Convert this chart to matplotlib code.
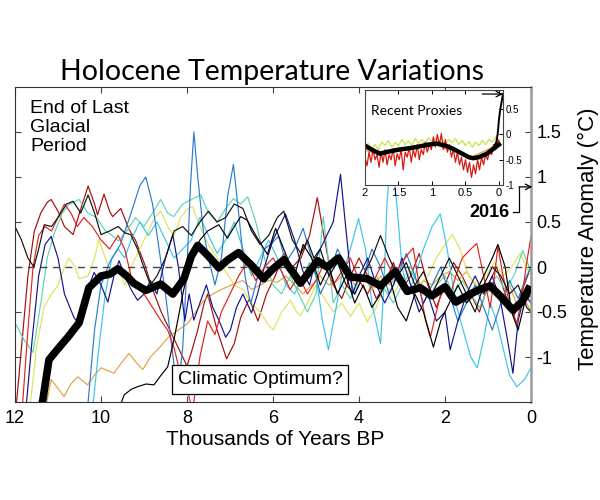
import matplotlib
matplotlib.use("Agg")
import matplotlib.pyplot as plt

plt.rcParams['font.family'] = ['Liberation Sans', 'DejaVu Sans']

# ---- main panel data: (thousands of years BP, anomaly degC) ----
dark_red = [(12.0, -1.7), (11.85, -0.9), (11.7, -0.1), (11.55, 0.4), (11.4, 0.6), (11.25, 0.72),
            (11.16, 0.75), (11.0, 0.62), (10.85, 0.45), (10.65, 0.36), (10.5, 0.6), (10.3, 0.9),
            (10.15, 0.7), (10.08, 0.58), (9.93, 0.81), (9.8, 0.62), (9.73, 0.56), (9.54, 0.65),
            (9.35, 0.42), (9.2, 0.3), (9.0, 0.05), (8.8, -0.25), (8.6, -0.5), (8.4, -0.7),
            (8.2, -0.9), (8.0, -1.1), (7.9, -0.95), (7.75, -0.7), (7.6, -0.4), (7.52, -0.3),
            (7.3, -0.7), (7.08, -1.02), (6.9, -0.85), (6.75, -0.56), (6.55, -0.35), (6.35, -0.6),
            (6.15, -0.3), (5.95, -0.1), (5.75, 0.15), (5.55, 0.0), (5.35, 0.1), (5.15, 0.35),
            (4.97, 0.77), (4.8, 0.3), (4.6, -0.2), (4.4, -0.35), (4.2, -0.1), (4.0, 0.1),
            (3.8, -0.1), (3.6, -0.35), (3.4, -0.2), (3.2, 0.05), (3.0, -0.25), (2.8, -0.1),
            (2.6, 0.15), (2.4, -0.2), (2.2, -0.45), (2.0, -0.2), (1.8, 0.05), (1.6, -0.1),
            (1.4, -0.3), (1.2, -0.5), (1.0, -0.2), (0.8, 0.0), (0.6, -0.3), (0.4, -0.55),
            (0.2, -0.25), (0.0, 0.0)]

red = [(12.0, -2.0), (11.82, -1.5), (11.7, -0.7), (11.58, 0.0), (11.45, 0.35), (11.3, 0.45),
       (11.15, 0.4), (11.0, 0.55), (10.85, 0.7), (10.7, 0.6), (10.55, 0.45), (10.4, 0.55),
       (10.2, 0.45), (10.0, 0.3), (9.8, 0.2), (9.6, 0.35), (9.45, 0.2), (9.3, -0.1),
       (9.15, -0.2), (9.0, -0.3), (8.8, -0.45), (8.6, -0.6), (8.45, -0.7), (8.3, -0.9),
       (8.15, -1.2), (8.0, -1.35), (7.87, -1.6), (7.7, -1.0), (7.52, -0.6), (7.35, -0.75),
       (7.2, -0.5), (7.0, -0.3), (6.8, -0.1), (6.6, 0.05), (6.4, -0.15), (6.2, 0.0),
       (6.0, 0.1), (5.8, -0.05), (5.6, -0.25), (5.4, -0.1), (5.2, -0.3), (5.0, -0.15),
       (4.8, 0.05), (4.6, -0.2), (4.4, -0.05), (4.2, 0.1), (4.0, -0.15), (3.8, -0.3),
       (3.6, -0.1), (3.4, 0.1), (3.2, -0.1), (3.0, 0.05), (2.85, 0.15), (2.74, 0.21),
       (2.6, -0.2), (2.45, -0.6), (2.34, -0.78), (2.2, -0.5), (2.05, -0.2), (1.9, -0.35),
       (1.75, -0.1), (1.6, 0.1), (1.4, 0.2), (1.26, 0.26), (1.1, -0.1), (0.95, -0.45),
       (0.85, -0.1), (0.77, 0.23), (0.65, -0.1), (0.5, -0.4), (0.33, -0.63), (0.2, -0.3),
       (0.1, 0.05), (0.0, 0.34)]

navy = [(11.75, -1.6), (11.6, -0.8), (11.45, -0.1), (11.3, 0.25), (11.16, 0.34), (11.0, 0.1),
        (10.85, -0.3), (10.63, -0.56), (10.54, -0.62), (10.35, -0.3), (10.16, -0.06), (10.0, -0.2),
        (9.84, -0.39), (9.7, -0.1), (9.58, 0.07), (9.45, -0.1), (9.3, -0.25), (9.15, -0.37),
        (9.0, -0.3), (8.85, -0.15), (8.7, -0.3), (8.5, 0.1), (8.33, 0.36), (8.2, 0.0),
        (8.05, -0.6), (7.95, -0.3), (7.84, -0.59), (7.7, -0.4), (7.55, -0.2), (7.4, -0.45),
        (7.25, -0.6), (7.1, -0.78), (6.99, -0.7), (6.85, -0.45), (6.7, -0.3), (6.5, -0.51),
        (6.36, -0.3), (6.2, 0.0), (6.0, 0.3), (5.85, 0.45), (5.71, 0.59), (5.5, 0.3),
        (5.31, -0.04), (5.15, -0.2), (5.0, 0.1), (4.8, 0.3), (4.6, 0.5), (4.43, 1.03),
        (4.3, 0.4), (4.15, -0.3), (4.0, -0.1), (3.8, 0.1), (3.6, -0.2), (3.4, -0.4),
        (3.2, -0.2), (3.0, 0.1), (2.8, -0.2), (2.6, -0.5), (2.4, -0.3), (2.2, -0.6),
        (2.0, -0.5), (1.88, -0.92), (1.7, -0.6), (1.5, -0.3), (1.3, -0.1), (1.1, -0.3),
        (0.9, -0.1), (0.7, -0.4), (0.55, -0.8), (0.42, -1.18), (0.3, -0.6), (0.15, -0.3),
        (0.0, -0.4)]

steel_blue = [(10.35, -1.6), (10.3, -1.5), (10.15, -0.7), (10.0, -0.2), (9.8, 0.05), (9.55, 0.25),
              (9.3, 0.6), (9.1, 0.9), (8.96, 1.0), (8.8, 0.7), (8.65, 0.2), (8.5, -0.3),
              (8.35, -0.9), (8.22, -1.4), (8.1, -0.9), (8.0, 0.0), (7.92, 0.9), (7.84, 1.5),
              (7.75, 1.0), (7.62, 0.4), (7.5, 0.1), (7.35, -0.2), (7.2, 0.1), (7.05, 0.8),
              (6.92, 1.14), (6.8, 0.6), (6.65, -0.1), (6.52, -0.41), (6.35, -0.1), (6.2, 0.2),
              (6.06, 0.25), (5.87, 0.34), (5.7, 0.05), (5.5, 0.2), (5.3, 0.43), (5.1, 0.1),
              (4.9, -0.3), (4.7, -0.1), (4.5, 0.2), (4.3, 0.0), (4.1, -0.3), (3.9, -0.1),
              (3.7, 0.2), (3.5, 0.0), (3.3, -0.3), (3.1, -0.1), (2.9, 0.15), (2.7, -0.1),
              (2.5, -0.4), (2.3, -0.2), (2.1, 0.0), (1.9, -0.3), (1.7, -0.6), (1.5, -0.4),
              (1.3, -0.2), (1.1, -0.45), (0.9, -0.7), (0.7, -0.4), (0.5, -0.15), (0.3, -0.35),
              (0.1, -0.1), (0.0, 0.0)]

cyan = [(10.2, -1.6), (10.05, -0.9), (9.9, -0.3), (9.75, 0.1), (9.6, 0.2), (9.45, 0.1),
        (9.3, 0.3), (9.1, 0.5), (8.9, 0.35), (8.7, 0.5), (8.5, 0.3), (8.3, 0.1),
        (8.1, 0.2), (7.9, 0.3), (7.7, 0.55), (7.5, 0.35), (7.3, 0.15), (7.1, 0.3),
        (6.9, 0.5), (6.7, 0.2), (6.5, -0.1), (6.3, 0.1), (6.1, 0.3), (5.9, 0.1),
        (5.7, -0.2), (5.5, -0.3), (5.3, -0.1), (5.15, 0.05), (5.0, -0.1), (4.85, -0.6),
        (4.71, -0.92), (4.55, -0.5), (4.4, -0.1), (4.2, 0.2), (4.01, 0.54), (3.85, 0.2),
        (3.7, -0.4), (3.5, -0.85), (3.42, -0.2), (3.35, 0.7), (3.25, 1.3), (3.12, 0.7),
        (3.0, 0.0), (2.85, -0.3), (2.7, -0.1), (2.5, 0.2), (2.3, 0.45), (2.11, 0.59),
        (1.95, 0.2), (1.75, -0.4), (1.55, -0.75), (1.4, -1.0), (1.25, -1.12), (1.1, -0.8),
        (0.95, -0.4), (0.8, -0.6), (0.65, -0.9), (0.5, -1.2), (0.33, -1.33), (0.15, -1.25),
        (0.0, -1.12)]

turquoise = [(12.0, -0.62), (11.8, -0.8), (11.58, -0.95), (11.4, -0.4), (11.25, 0.1), (11.1, 0.36),
             (10.9, 0.6), (10.75, 0.69), (10.51, 0.75), (10.31, 0.6), (10.1, 0.55), (9.9, 0.4),
             (9.77, 0.36), (9.59, 0.29), (9.4, 0.4), (9.2, 0.55), (9.0, 0.45), (8.8, 0.6),
             (8.61, 0.75), (8.45, 0.6), (8.31, 0.56), (8.1, 0.7), (7.9, 0.75), (7.68, 0.8),
             (7.5, 0.6), (7.3, 0.5), (7.1, 0.65), (6.92, 0.76), (6.75, 0.7), (6.59, 0.78),
             (6.4, 0.5), (6.2, 0.1), (6.0, -0.2), (5.8, -0.3), (5.6, -0.1), (5.4, -0.3),
             (5.2, -0.5), (5.0, -0.3), (4.83, 0.56), (4.6, -0.4), (4.4, -0.2), (4.2, -0.35),
             (4.0, -0.15), (3.8, -0.3), (3.6, -0.1), (3.4, -0.25), (3.2, -0.4), (3.0, -0.2),
             (2.8, -0.05), (2.6, -0.2), (2.4, -0.35), (2.2, -0.2), (2.0, -0.1), (1.8, -0.3),
             (1.6, -0.15), (1.4, -0.3), (1.2, -0.45), (1.0, -0.25), (0.8, -0.1), (0.6, -0.25),
             (0.4, -0.1), (0.19, 0.18), (0.0, -0.05)]

yellow = [(11.7, -1.6), (11.63, -1.47), (11.5, -0.9), (11.33, -0.45), (11.15, -0.3), (11.0, -0.2),
          (10.85, 0.0), (10.75, 0.1), (10.6, 0.0), (10.51, -0.13), (10.3, -0.1), (10.15, 0.1),
          (10.05, 0.31), (9.9, 0.1), (9.75, -0.1), (9.6, 0.0), (9.45, -0.2), (9.3, 0.0),
          (9.1, 0.2), (8.9, 0.4), (8.75, 0.55), (8.61, 0.62), (8.45, 0.45), (8.3, 0.35),
          (8.15, 0.55), (7.98, 0.65), (7.87, 0.67), (7.7, 0.45), (7.5, 0.25), (7.3, 0.1),
          (7.1, -0.05), (6.9, -0.2), (6.7, -0.25), (6.5, -0.4), (6.3, -0.5), (6.13, -0.63),
          (5.99, -0.7), (5.8, -0.5), (5.59, -0.37), (5.45, -0.5), (5.36, -0.54), (5.2, -0.4),
          (5.0, -0.2), (4.8, -0.35), (4.6, -0.5), (4.4, -0.4), (4.2, -0.55), (4.0, -0.4),
          (3.81, -0.61), (3.6, -0.45), (3.4, -0.2), (3.2, -0.3), (3.0, -0.15), (2.8, 0.0),
          (2.6, -0.2), (2.4, -0.1), (2.2, 0.1), (2.0, 0.25), (1.83, 0.36), (1.65, 0.2),
          (1.45, -0.1), (1.25, -0.2), (1.05, -0.1), (0.85, 0.05), (0.65, -0.1), (0.45, 0.0),
          (0.25, 0.15), (0.1, 0.0), (0.0, -0.1)]

orange = [(11.3, -1.6), (11.16, -1.25), (11.0, -1.35), (10.86, -1.44), (10.7, -1.3), (10.54, -1.22),
          (10.31, -1.31), (10.15, -1.2), (10.0, -1.12), (9.85, -1.15), (9.7, -1.18), (9.5, -1.05),
          (9.35, -0.96), (9.2, -1.05), (9.03, -1.14), (8.85, -1.0), (8.65, -0.9), (8.45, -0.79),
          (8.2, -0.7), (7.99, -0.63), (7.8, -0.5), (7.61, -0.37), (7.4, -0.3), (7.2, -0.25),
          (6.92, -0.19), (6.7, -0.15), (6.5, -0.25), (6.3, -0.2), (6.1, -0.15), (5.9, -0.17),
          (5.7, -0.1), (5.5, -0.2), (5.3, -0.3), (5.1, -0.2), (4.9, -0.1), (4.7, -0.2),
          (4.5, -0.15), (4.3, -0.05), (4.1, -0.2), (3.9, -0.1), (3.7, -0.25), (3.5, -0.1),
          (3.3, -0.2), (3.1, -0.1), (2.9, -0.2), (2.7, -0.3), (2.5, -0.15), (2.3, -0.2),
          (2.1, -0.1), (1.9, -0.05), (1.7, -0.15), (1.5, -0.05), (1.3, -0.2), (1.1, -0.3),
          (0.9, -0.25), (0.7, -0.35), (0.5, -0.2), (0.3, -0.45), (0.1, -0.4), (0.0, -0.5)]

black_early = [(12.0, 0.45), (11.85, 0.3), (11.7, 0.1), (11.56, 0.0), (11.45, 0.2), (11.32, 0.47),
               (11.15, 0.45), (11.0, 0.55), (10.8, 0.7), (10.65, 0.73), (10.47, 0.6), (10.3, 0.8),
               (10.15, 0.6), (10.0, 0.36), (9.8, 0.4), (9.6, 0.45), (9.45, 0.38), (9.31, 0.36),
               (9.15, 0.2), (9.0, -0.01), (8.85, -0.2), (8.7, -0.1), (8.5, 0.1), (8.3, 0.4),
               (8.1, 0.45), (7.9, 0.35), (7.7, 0.5), (7.5, 0.62), (7.3, 0.5), (7.1, 0.55),
               (6.9, 0.7), (6.7, 0.65), (6.5, 0.4), (6.3, 0.25), (6.1, 0.35), (5.9, 0.55),
               (5.75, 0.62), (5.55, 0.3), (5.35, 0.15), (5.2, 0.3), (5.05, 0.1), (4.9, 0.2),
               (4.7, -0.1), (4.5, 0.05), (4.3, -0.2), (4.1, -0.3), (3.9, -0.1), (3.7, 0.1),
               (3.5, 0.35), (3.3, 0.1), (3.1, -0.1), (2.9, 0.05), (2.7, -0.2), (2.5, -0.05),
               (2.3, -0.3), (2.1, -0.1), (1.9, 0.1), (1.7, -0.1), (1.5, -0.3), (1.3, -0.5),
               (1.1, -0.2), (0.9, 0.0), (0.7, -0.1), (0.5, -0.3), (0.3, -0.2), (0.1, -0.45),
               (0.0, -0.5)]

black_late = [(9.6, -1.6), (9.46, -1.42), (9.3, -1.36), (9.15, -1.33), (8.95, -1.3), (8.77, -1.31),
              (8.6, -1.2), (8.45, -1.11), (8.3, -0.8), (8.08, -0.26), (7.9, 0.1), (7.7, 0.3),
              (7.52, 0.4), (7.26, 0.47), (7.06, 0.32), (6.9, 0.45), (6.75, 0.56), (6.6, 0.52),
              (6.4, 0.35), (6.13, 0.14), (5.94, 0.43), (5.75, 0.2), (5.5, -0.1), (5.3, 0.25),
              (5.1, 0.1), (4.9, -0.2), (4.7, 0.0), (4.5, -0.3), (4.3, -0.1), (4.1, -0.4),
              (3.9, -0.2), (3.7, -0.45), (3.5, -0.3), (3.3, -0.1), (3.1, -0.45), (2.9, -0.6),
              (2.7, -0.3), (2.5, -0.5), (2.27, -0.89), (2.1, -0.6), (1.9, -0.4), (1.7, -0.2),
              (1.5, -0.4), (1.3, -0.3), (1.1, -0.1), (0.9, 0.1), (0.77, 0.25), (0.6, 0.0),
              (0.45, -0.5), (0.3, -0.7), (0.15, -0.4), (0.0, -0.3)]

average = [(11.45, -1.7), (11.35, -1.47), (11.21, -1.03), (10.95, -0.88), (10.77, -0.78),
           (10.51, -0.62), (10.28, -0.23), (10.0, -0.1), (9.8, -0.08), (9.61, -0.02),
           (9.4, -0.1), (9.24, -0.18), (8.96, -0.26), (8.61, -0.19), (8.33, -0.3),
           (8.07, -0.13), (7.9, 0.12), (7.75, 0.24), (7.5, 0.12), (7.26, -0.01),
           (7.05, 0.08), (6.8, 0.16), (6.5, 0.02), (6.22, -0.13), (6.0, -0.02),
           (5.75, 0.08), (5.55, -0.05), (5.36, -0.18), (5.15, -0.05), (4.97, 0.07),
           (4.74, 0.0), (4.48, 0.1), (4.2, -0.11), (3.81, -0.13), (3.5, -0.21),
           (3.16, -0.05), (2.88, -0.27), (2.58, -0.23), (2.3, -0.32), (2.0, -0.22),
           (1.75, -0.39), (1.45, -0.31), (1.2, -0.25), (0.95, -0.21), (0.7, -0.33),
           (0.42, -0.48), (0.2, -0.38), (0.02, -0.21)]

thin_series = [(dark_red, '#a80c0c'), (orange, '#e3a240'), (yellow, '#e2e25c'),
               (turquoise, '#5cd6b4'), (cyan, '#3cc4ec'), (steel_blue, '#2a7ccf'),
               (navy, '#14148a'), (red, '#e2231c'), (black_early, '#101010'),
               (black_late, '#000000')]

# ---- inset data: recent 2000 years ----
inset_red = [(2.0, -0.45), (1.97, -0.62), (1.94, -0.35), (1.91, -0.55), (1.88, -0.3), (1.85, -0.5),
             (1.82, -0.4), (1.79, -0.65), (1.76, -0.35), (1.73, -0.55), (1.7, -0.3), (1.67, -0.6),
             (1.64, -0.4), (1.61, -0.5), (1.58, -0.28), (1.55, -0.62), (1.52, -0.38), (1.49, -0.5),
             (1.46, -0.3), (1.43, -0.7), (1.4, -0.35), (1.37, -0.45), (1.34, -0.25), (1.31, -0.55),
             (1.28, -0.3), (1.25, -0.45), (1.22, -0.2), (1.19, -0.5), (1.16, -0.3), (1.13, -0.4),
             (1.1, -0.15), (1.07, -0.35), (1.04, -0.2), (1.01, -0.3), (0.98, -0.05), (0.95, -0.25),
             (0.92, 0.0), (0.89, -0.2), (0.86, 0.02), (0.83, -0.3), (0.8, -0.1), (0.77, -0.35),
             (0.74, -0.2), (0.71, -0.45), (0.68, -0.3), (0.65, -0.55), (0.62, -0.35), (0.59, -0.6),
             (0.56, -0.45), (0.53, -0.7), (0.5, -0.5), (0.47, -0.75), (0.44, -0.55), (0.41, -0.85),
             (0.38, -0.6), (0.35, -0.78), (0.32, -0.5), (0.29, -0.7), (0.26, -0.45), (0.23, -0.6),
             (0.2, -0.4), (0.17, -0.5), (0.14, -0.3), (0.11, -0.4), (0.08, -0.2), (0.05, -0.3),
             (0.02, -0.1), (0.0, -0.15)]

inset_green = [(2.0, -0.25), (1.95, -0.18), (1.9, -0.28), (1.85, -0.2), (1.8, -0.3), (1.75, -0.15),
               (1.7, -0.22), (1.65, -0.12), (1.6, -0.25), (1.55, -0.16), (1.5, -0.22), (1.45, -0.1),
               (1.4, -0.2), (1.35, -0.12), (1.3, -0.22), (1.25, -0.08), (1.2, -0.18), (1.15, -0.1),
               (1.1, -0.2), (1.05, -0.06), (1.0, -0.15), (0.95, -0.08), (0.9, -0.18), (0.85, -0.1),
               (0.8, -0.2), (0.75, -0.1), (0.7, -0.16), (0.65, -0.08), (0.6, -0.2), (0.55, -0.12),
               (0.5, -0.22), (0.45, -0.14), (0.4, -0.25), (0.35, -0.15), (0.3, -0.22), (0.25, -0.12),
               (0.2, -0.2), (0.15, -0.1), (0.1, -0.15), (0.05, -0.05), (0.0, -0.1)]

inset_orange = [(2.0, -0.3), (1.9, -0.36), (1.8, -0.32), (1.7, -0.38), (1.6, -0.3), (1.5, -0.34),
                (1.4, -0.28), (1.3, -0.3), (1.2, -0.24), (1.1, -0.26), (1.0, -0.2), (0.9, -0.22),
                (0.8, -0.28), (0.7, -0.3), (0.6, -0.36), (0.5, -0.4), (0.4, -0.44), (0.3, -0.38),
                (0.2, -0.32), (0.1, -0.25), (0.0, -0.12)]

inset_mean = [(2.0, -0.22), (1.9, -0.3), (1.78, -0.38), (1.65, -0.34), (1.5, -0.3), (1.33, -0.27),
              (1.2, -0.24), (1.05, -0.2), (0.93, -0.18), (0.8, -0.22), (0.69, -0.28), (0.55, -0.38),
              (0.45, -0.45), (0.39, -0.47), (0.3, -0.45), (0.18, -0.38), (0.08, -0.28), (0.0, -0.2)]

instrumental = [(0.08, -0.25), (0.04, -0.15), (0.02, 0.0), (0.0, 0.3), (-0.02, 0.5),
                (-0.04, 0.65), (-0.06, 0.8)]

x_ticks = [12, 10, 8, 6, 4, 2, 0]
y_ticks = [-1, -0.5, 0, 0.5, 1, 1.5]
y_tick_labels = ['-1', '-0.5', '0', '0.5', '1', '1.5']
inset_x_ticks = [2, 1.5, 1, 0.5, 0]
inset_x_labels = ['2', '1.5', '1', '0.5', '0']
inset_y_ticks = [-1, -0.5, 0, 0.5]
inset_y_labels = ['-1', '-0.5', '0', '0.5']


def xs(pts):
    return [p[0] for p in pts]


def ys(pts):
    return [p[1] for p in pts]


fig = plt.figure(figsize=(6, 5), dpi=100)
ax = fig.add_axes([15 / 600, 98 / 500, 516 / 600, 315 / 500])

for pts, col in thin_series:
    ax.plot(xs(pts), ys(pts), color=col, lw=0.85, zorder=2)
ax.axhline(0, color='#444444', lw=1.0, ls=(0, (5, 4)), zorder=3)
ax.plot(xs(average), ys(average), color='black', lw=5.5, solid_capstyle='butt',
        solid_joinstyle='round', zorder=4)

ax.set_xlim(12, 0)
ax.set_ylim(-1.5, 2.0)
ax.set_xticks(x_ticks)
ax.set_xticklabels([str(t) for t in x_ticks], fontsize=13)
ax.set_yticks(y_ticks)
ax.set_yticklabels(y_tick_labels, fontsize=13)
ax.tick_params(axis='both', direction='in', length=4, width=0.8, color='#444444',
               top=True, right=True, left=True, labelleft=False, labelright=True)
ax.tick_params(axis='y', pad=4)
ax.tick_params(axis='x', pad=6)
for side in ['left', 'top', 'bottom']:
    ax.spines[side].set_color('#333333')
ax.spines['right'].set_color('#9a9a9a')
ax.spines['right'].set_linewidth(1.8)

ax.text(6.3, -1.25, 'Climatic Optimum?', fontsize=14, ha='center', va='center', zorder=6,
        bbox=dict(boxstyle='square,pad=0.3', fc='white', ec='black', lw=0.9))

# 2016 marker
ax.plot([0.42, 0.28, 0.28], [0.61, 0.61, 0.89], color='black', lw=0.9, clip_on=False, zorder=6)
ax.annotate('', xy=(-0.03, 0.89), xytext=(0.28, 0.89), annotation_clip=False,
            arrowprops=dict(arrowstyle='->', color='black', lw=0.9, shrinkA=0, shrinkB=0))
ax.text(0.5, 0.61, '2016', fontsize=13, fontweight='bold', ha='right', va='center', zorder=6)

fig.text(272 / 600, 1 - 80 / 500, 'Holocene Temperature Variations', fontsize=20.5,
         family=['Lato', 'DejaVu Sans'], ha='center', va='baseline')
fig.text(275 / 600, 1 - 445 / 500, 'Thousands of Years BP', fontsize=15, ha='center', va='baseline')
fig.text(588 / 600, 1 - 239 / 500, 'Temperature Anomaly (°C)', fontsize=16, rotation=90,
         ha='center', va='center')
fig.text(30 / 600, 1 - 100 / 500, 'End of Last\nGlacial\nPeriod', fontsize=14,
         ha='left', va='top', linespacing=1.15)

# inset
axi = fig.add_axes([365 / 600, 315 / 500, 138 / 600, 95 / 500])
axi.plot(xs(inset_green), ys(inset_green), color='#cfe35a', lw=1.0)
axi.plot(xs(inset_orange), ys(inset_orange), color='#f0a436', lw=1.0)
axi.plot(xs(inset_red), ys(inset_red), color='#d81a10', lw=0.9)
axi.plot(xs(inset_mean), ys(inset_mean), color='black', lw=3.2)
axi.plot(xs(instrumental), ys(instrumental), color='black', lw=1.4)
axi.annotate('', xy=(-0.06, 0.8), xytext=(0.25, 0.8), annotation_clip=False,
             arrowprops=dict(arrowstyle='->', color='black', lw=0.9, shrinkA=0, shrinkB=0))
axi.set_xlim(2, -0.06)
axi.set_ylim(-1.0, 0.88)
axi.set_xticks(inset_x_ticks)
axi.set_xticklabels(inset_x_labels, fontsize=8)
axi.set_yticks(inset_y_ticks)
axi.set_yticklabels(inset_y_labels, fontsize=7)
axi.tick_params(axis='both', direction='in', length=3, width=0.7, top=True, right=True,
                left=False, labelleft=False, labelright=True, pad=2)
axi.text(0.04, 0.78, 'Recent Proxies', transform=axi.transAxes, fontsize=10,
         family=['Lato', 'DejaVu Sans'], ha='left', va='center')
for s in axi.spines.values():
    s.set_color('#444444')
    s.set_linewidth(0.8)

fig.savefig('out.png', dpi=100)
